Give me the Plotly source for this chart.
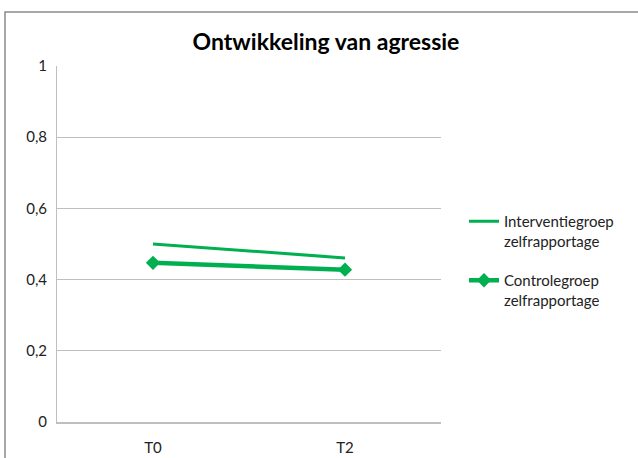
import plotly.graph_objects as go

categories = ["T0", "T2"]
interventie = [0.50, 0.461]
controle = [0.447, 0.428]
series_names = ["Interventiegroep<br>zelfrapportage", "Controlegroep<br>zelfrapportage"]
title_text = "Ontwikkeling van agressie"

GREEN = "#00B050"
FONT = "Lato"

fig = go.Figure()
fig.add_trace(go.Scatter(
    x=categories, y=interventie, mode="lines", name=series_names[0],
    line=dict(color=GREEN, width=3), legendgroup="a",
))
fig.add_trace(go.Scatter(
    x=categories, y=controle, mode="lines+markers", name=series_names[1],
    line=dict(color=GREEN, width=4.5),
    marker=dict(symbol="diamond", size=11, color=GREEN),
    legendgroup="b",
))

W, H = 638, 458
L, R, T, B = 57, 197, 66, 36
pw, ph = W - L - R, H - T - B

def px_x(x):
    return (x - L) / pw

def px_y(y):
    return (H - B - y) / ph

fig.update_layout(
    width=W, height=H,
    margin=dict(l=L, r=R, t=T, b=B, autoexpand=False),
    paper_bgcolor="white", plot_bgcolor="white",
    separators=",.",
    font=dict(family=FONT, size=15, color="#222222"),
    title=dict(text="<b>" + title_text + "</b>", x=326 / W, xanchor="center",
               y=1 - 42 / H, yanchor="middle", font=dict(family=FONT, size=23, color="black")),
    showlegend=True,
    legend=dict(x=px_x(464), y=px_y(205), xanchor="left", yanchor="top",
                valign="top", tracegroupgap=17, traceorder="grouped",
                font=dict(family=FONT, size=15, color="#222222"),
                bgcolor="rgba(0,0,0,0)"),
    xaxis=dict(type="category", range=[-0.5, 1.5], showgrid=False,
               showline=True, linecolor="#BFBFBF", linewidth=1.5,
               ticks="", ticklabelstandoff=11, tickfont=dict(size=15),
               zeroline=False, fixedrange=True, automargin=False),
    yaxis=dict(range=[0, 1], dtick=0.2, tick0=0, showgrid=True,
               gridcolor="#BFBFBF", gridwidth=1, showline=True,
               linecolor="#BFBFBF", linewidth=1, ticks="",
               ticklabelstandoff=6, tickfont=dict(size=15),
               zeroline=False, fixedrange=True, automargin=False),
    shapes=[dict(type="rect", xref="paper", yref="paper",
                 x0=px_x(5), x1=px_x(645), y0=px_y(465), y1=px_y(12),
                 line=dict(color="#8C8C8C", width=1.5), layer="below")],
)

fig.write_html("out.html", config={"displayModeBar": False},
               post_script="document.body.style.margin='0';")
